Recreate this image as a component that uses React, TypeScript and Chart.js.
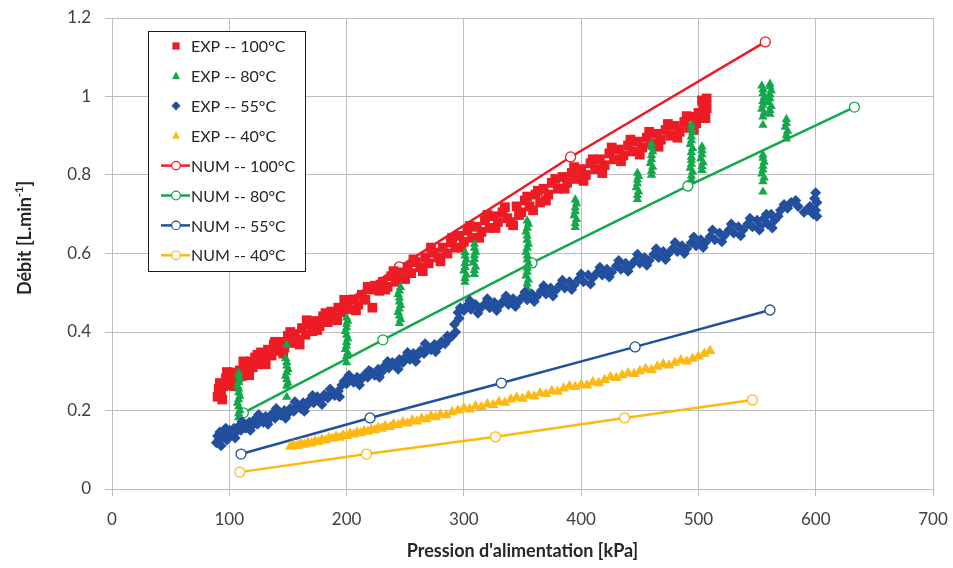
import React, { useEffect, useRef } from "react";
import { Chart, registerables } from "chart.js";

Chart.register(...registerables);

// ---------- Data ----------
const xTickValues = [0, 100, 200, 300, 400, 500, 600, 700];
const yTickValues = [0, 0.2, 0.4, 0.6, 0.8, 1, 1.2];
const yTickLabels = ["0", "0.2", "0.4", "0.6", "0.8", "1", "1.2"];

const xTitle = "Pression d'alimentation [kPa]";
const yTitleMain = "Débit [L.min";
const yTitleSup = "-1";
const yTitleEnd = "]";

const seriesLabels = [
  "EXP -- 100°C",
  "EXP -- 80°C",
  "EXP -- 55°C",
  "EXP -- 40°C",
  "NUM -- 100°C",
  "NUM -- 80°C",
  "NUM -- 55°C",
  "NUM -- 40°C",
];

const exp100: [number, number][] = [
  [90, 0.235], [91, 0.255], [92, 0.27], [93, 0.245], [95, 0.262], [97, 0.282], [99, 0.265], [101, 0.287],
  [103, 0.272], [105, 0.297], [107, 0.28], [109, 0.302], [111, 0.288], [113, 0.312], [115, 0.298], [118, 0.325],
  [120, 0.31], [122, 0.335], [125, 0.318], [127, 0.348], [130, 0.332], [133, 0.355], [136, 0.34], [138, 0.368],
  [141, 0.352], [144, 0.375], [147, 0.36], [150, 0.39], [153, 0.372], [156, 0.395], [159, 0.38], [162, 0.41],
  [165, 0.393], [168, 0.42], [171, 0.402], [174, 0.428], [177, 0.415], [180, 0.44], [184, 0.425], [187, 0.452],
  [190, 0.438], [193, 0.462], [197, 0.45], [200, 0.472], [203, 0.458], [206, 0.483], [210, 0.47], [213, 0.495],
  [216, 0.482], [220, 0.508], [222, 0.462], [224, 0.518], [228, 0.505], [231, 0.528], [235, 0.515], [238, 0.542],
  [242, 0.528], [245, 0.552], [248, 0.54], [252, 0.565], [255, 0.55], [259, 0.578], [263, 0.565], [267, 0.59],
  [270, 0.575], [274, 0.602], [278, 0.59], [282, 0.615], [286, 0.6], [289, 0.628], [293, 0.615], [296, 0.645],
  [300, 0.63], [303, 0.658], [307, 0.64], [311, 0.668], [315, 0.655], [318, 0.685], [322, 0.665], [325, 0.695],
  [329, 0.68], [333, 0.705], [337, 0.69], [342, 0.672], [345, 0.72], [349, 0.705], [352, 0.735], [356, 0.72],
  [361, 0.75], [365, 0.73], [368, 0.765], [372, 0.75], [375, 0.78], [380, 0.765], [384, 0.795], [388, 0.78],
  [392, 0.805], [396, 0.79], [400, 0.815], [404, 0.8], [408, 0.83], [412, 0.815], [416, 0.84], [420, 0.825],
  [424, 0.855], [428, 0.84], [432, 0.865], [436, 0.85], [440, 0.875], [444, 0.86], [448, 0.885], [452, 0.87],
  [456, 0.895], [460, 0.88], [464, 0.905], [468, 0.89], [472, 0.915], [476, 0.9], [480, 0.925], [484, 0.91],
  [488, 0.935], [492, 0.92], [495, 0.948], [498, 0.932], [500, 0.958], [502, 0.945], [504, 0.972], [505, 0.958],
  [506, 0.985], [507, 0.97],
  [94, 0.228], [98, 0.298], [104, 0.262], [112, 0.325], [117, 0.29], [124, 0.342], [131, 0.318], [139, 0.375],
  [146, 0.345], [152, 0.4], [160, 0.368], [166, 0.43], [175, 0.405], [182, 0.448], [192, 0.43], [198, 0.482],
  [208, 0.455], [218, 0.515], [233, 0.508], [240, 0.555], [250, 0.535], [257, 0.585], [265, 0.555], [272, 0.615],
  [280, 0.58], [290, 0.64], [298, 0.615], [305, 0.67], [313, 0.64], [320, 0.698], [327, 0.665], [335, 0.718],
  [340, 0.68], [347, 0.698], [354, 0.745], [359, 0.71], [363, 0.76], [370, 0.735], [378, 0.79], [386, 0.765],
  [394, 0.82], [402, 0.785], [410, 0.84], [418, 0.805], [426, 0.87], [434, 0.835], [442, 0.89], [450, 0.852],
  [458, 0.91], [466, 0.872], [474, 0.93], [482, 0.895], [490, 0.95], [496, 0.915], [503, 0.99], [506, 0.945],
  [507, 0.995],
];

const exp80: [number, number][] = [
  [108, 0.182], [108, 0.192], [109, 0.2], [108, 0.21], [107, 0.219], [108, 0.228], [109, 0.237], [108, 0.246],
  [108, 0.255], [107, 0.263], [108, 0.272], [109, 0.28], [108, 0.288], [108, 0.296],
  [149, 0.234], [149, 0.262], [150, 0.27], [149, 0.279], [148, 0.288], [149, 0.297], [150, 0.305], [149, 0.314],
  [149, 0.323], [148, 0.333], [149, 0.367],
  [200, 0.322], [200, 0.338], [201, 0.347], [199, 0.356], [200, 0.365], [200, 0.374], [201, 0.383], [200, 0.392],
  [199, 0.402], [200, 0.411], [200, 0.42], [201, 0.428], [200, 0.436],
  [245, 0.422], [246, 0.432], [245, 0.441], [244, 0.45], [245, 0.459], [246, 0.468], [245, 0.477], [245, 0.487],
  [244, 0.496], [245, 0.505], [246, 0.514],
  [301, 0.527], [301, 0.537], [302, 0.546], [300, 0.556], [301, 0.565], [301, 0.575], [302, 0.584], [301, 0.594],
  [301, 0.603],
  [309, 0.547], [309, 0.557], [310, 0.566], [308, 0.576], [309, 0.585], [309, 0.595], [310, 0.604], [309, 0.614],
  [309, 0.624],
  [354, 0.512], [354, 0.523], [355, 0.533], [353, 0.543], [354, 0.553], [354, 0.563], [355, 0.574], [354, 0.584],
  [354, 0.594], [353, 0.604], [354, 0.614], [355, 0.624], [354, 0.634], [354, 0.645], [353, 0.655], [354, 0.665],
  [355, 0.675], [354, 0.683],
  [395, 0.667], [395, 0.677], [396, 0.687], [394, 0.697], [395, 0.707], [395, 0.717], [396, 0.727], [395, 0.737],
  [448, 0.738], [448, 0.748], [449, 0.758], [447, 0.768], [448, 0.778], [448, 0.788], [449, 0.797], [448, 0.805],
  [460, 0.8], [460, 0.81], [461, 0.82], [459, 0.83], [460, 0.84], [460, 0.85], [461, 0.86], [460, 0.87], [460, 0.88],
  [494, 0.788], [494, 0.798], [495, 0.808], [493, 0.818], [494, 0.828], [494, 0.838], [494, 0.846], [494, 0.858],
  [495, 0.868], [493, 0.878], [494, 0.888], [494, 0.898], [495, 0.908], [494, 0.918], [494, 0.928],
  [503, 0.812], [503, 0.822], [504, 0.832], [502, 0.842], [503, 0.852], [503, 0.862], [503, 0.872],
  [555, 0.757], [555, 0.783], [556, 0.793], [554, 0.803], [555, 0.813], [555, 0.823], [556, 0.833], [555, 0.843],
  [555, 0.851], [555, 0.927], [555, 0.948], [556, 0.958], [554, 0.968], [555, 0.978], [555, 0.988], [556, 0.998],
  [555, 1.008], [555, 1.018], [554, 1.027],
  [561, 0.955], [561, 0.965], [562, 0.975], [560, 0.985], [561, 0.995], [561, 1.005], [562, 1.015], [561, 1.025],
  [561, 1.032],
  [575, 0.892], [575, 0.902], [576, 0.912], [574, 0.922], [575, 0.932], [575, 0.942],
];

const exp55: [number, number][] = [
  [89, 0.118], [90, 0.135], [91, 0.125], [92, 0.145], [94, 0.13], [96, 0.14], [98, 0.125], [100, 0.15],
  [102, 0.138], [104, 0.155], [106, 0.145], [108, 0.16], [110, 0.15], [112, 0.165], [114, 0.155], [117, 0.17],
  [119, 0.16], [121, 0.175], [124, 0.165], [126, 0.18], [129, 0.17], [131, 0.185], [134, 0.178], [136, 0.19],
  [139, 0.18], [141, 0.195], [144, 0.188], [147, 0.2], [150, 0.192], [152, 0.205], [155, 0.198], [158, 0.212],
  [161, 0.205], [163, 0.22], [166, 0.212], [169, 0.228], [172, 0.22], [175, 0.235], [178, 0.228], [181, 0.24],
  [184, 0.232], [187, 0.245], [190, 0.238], [193, 0.25], [196, 0.265], [198, 0.275], [200, 0.268], [203, 0.28],
  [206, 0.272], [209, 0.285], [212, 0.278], [215, 0.29], [218, 0.285], [221, 0.298], [224, 0.29], [227, 0.305],
  [230, 0.298], [233, 0.315], [236, 0.308], [239, 0.322], [242, 0.315], [245, 0.33], [248, 0.322], [251, 0.338],
  [254, 0.33], [257, 0.345], [260, 0.338], [263, 0.352], [266, 0.345], [269, 0.36], [272, 0.355], [275, 0.368],
  [278, 0.362], [281, 0.375], [284, 0.37], [287, 0.382], [290, 0.39], [292, 0.42], [295, 0.45], [297, 0.462],
  [300, 0.455], [303, 0.468], [306, 0.458], [310, 0.47], [314, 0.46], [318, 0.472], [322, 0.462], [326, 0.475],
  [330, 0.466], [334, 0.48], [338, 0.47], [342, 0.485], [346, 0.476], [350, 0.49], [354, 0.482], [358, 0.497],
  [362, 0.49], [366, 0.505], [370, 0.497], [374, 0.512], [378, 0.505], [382, 0.52], [386, 0.512], [390, 0.528],
  [394, 0.52], [398, 0.535], [402, 0.528], [406, 0.545], [410, 0.538], [414, 0.552], [418, 0.545], [422, 0.56],
  [426, 0.552], [430, 0.568], [434, 0.56], [438, 0.575], [442, 0.568], [446, 0.582], [450, 0.575], [454, 0.59],
  [458, 0.582], [462, 0.598], [466, 0.59], [470, 0.605], [474, 0.598], [478, 0.612], [482, 0.605], [486, 0.62],
  [490, 0.612], [494, 0.628], [498, 0.62], [502, 0.635], [506, 0.628], [510, 0.643], [514, 0.635], [518, 0.652],
  [522, 0.645], [526, 0.66], [530, 0.652], [534, 0.668], [538, 0.66], [542, 0.675], [546, 0.668], [550, 0.685],
  [553, 0.67], [556, 0.69], [559, 0.675], [562, 0.7], [565, 0.685], [568, 0.695], [573, 0.725], [576, 0.715],
  [583, 0.735], [590, 0.705], [595, 0.72], [598, 0.7], [599, 0.74], [600, 0.755], [601, 0.73], [600, 0.71],
  [601, 0.695],
  [93, 0.11], [97, 0.155], [105, 0.13], [111, 0.172], [118, 0.15], [125, 0.19], [133, 0.165], [140, 0.205],
  [148, 0.18], [156, 0.222], [164, 0.198], [171, 0.238], [179, 0.215], [186, 0.255], [194, 0.235], [202, 0.29],
  [211, 0.265], [219, 0.302], [228, 0.285], [235, 0.325], [244, 0.305], [252, 0.348], [259, 0.325], [267, 0.37],
  [276, 0.35], [286, 0.39], [293, 0.4], [296, 0.435], [305, 0.48], [312, 0.448], [320, 0.485], [328, 0.455],
  [336, 0.492], [344, 0.465], [352, 0.502], [360, 0.478], [368, 0.518], [376, 0.492], [384, 0.532], [392, 0.508],
  [400, 0.548], [408, 0.522], [416, 0.565], [424, 0.54], [432, 0.582], [440, 0.555], [448, 0.598], [456, 0.57],
  [464, 0.612], [472, 0.585], [480, 0.628], [488, 0.6], [496, 0.642], [504, 0.615], [512, 0.66], [520, 0.63],
  [528, 0.675], [536, 0.645], [544, 0.69], [552, 0.66], [558, 0.7], [563, 0.665], [570, 0.71], [579, 0.73],
  [585, 0.72], [593, 0.712],
];

const exp40: [number, number][] = [
  [152, 0.108], [155, 0.112], [158, 0.11], [161, 0.116], [164, 0.113], [167, 0.118], [170, 0.116], [173, 0.122],
  [176, 0.12], [179, 0.126], [182, 0.124], [185, 0.13], [188, 0.128], [191, 0.134], [194, 0.131], [197, 0.137],
  [200, 0.135], [203, 0.141], [206, 0.139], [209, 0.145], [212, 0.142], [215, 0.148], [218, 0.146], [221, 0.152],
  [224, 0.15], [227, 0.156], [230, 0.154], [233, 0.16], [237, 0.158], [240, 0.165], [244, 0.163], [248, 0.17],
  [252, 0.167], [256, 0.175], [260, 0.172], [264, 0.18], [268, 0.178], [272, 0.186], [276, 0.183], [280, 0.19],
  [285, 0.188], [290, 0.196], [295, 0.2], [300, 0.206], [305, 0.203], [310, 0.211], [315, 0.209], [320, 0.216],
  [325, 0.214], [330, 0.222], [335, 0.22], [340, 0.228], [345, 0.233], [350, 0.23], [355, 0.238], [360, 0.236],
  [365, 0.244], [370, 0.242], [375, 0.25], [380, 0.248], [385, 0.256], [390, 0.262], [395, 0.26], [400, 0.266],
  [405, 0.264], [410, 0.272], [415, 0.27], [420, 0.278], [425, 0.285], [430, 0.283], [435, 0.29], [440, 0.295],
  [445, 0.293], [450, 0.3], [455, 0.306], [460, 0.303], [465, 0.312], [470, 0.318], [475, 0.315], [480, 0.322],
  [485, 0.328], [490, 0.325], [495, 0.332], [500, 0.338], [505, 0.345], [510, 0.352],
];

const num100: [number, number][] = [[113, 0.31], [245, 0.566], [391, 0.846], [557, 1.139]];
const num80: [number, number][] = [[112, 0.194], [231, 0.38], [358, 0.576], [491, 0.772], [633, 0.973]];
const num55: [number, number][] = [[110, 0.089], [220, 0.181], [332, 0.27], [446, 0.362], [561, 0.456]];
const num40: [number, number][] = [[109, 0.043], [217, 0.089], [327, 0.133], [437, 0.181], [546, 0.227]];

// ---------- Styles ----------
const RED = "#ed1c24";
const GREEN = "#12a84b";
const BLUE = "#22509f";
const YELLOW = "#fdb913";
const FONT = "Lato, 'Open Sans', sans-serif";
const TEXT = "#404040";

const toPts = (arr: [number, number][]) => arr.map(([x, y]) => ({ x, y }));

const expDataset = (label: string, data: [number, number][], color: string, style: string, radius: number, order: number) => ({
  label,
  data: toPts(data),
  showLine: false,
  pointStyle: style,
  pointRadius: radius,
  pointBackgroundColor: color,
  pointBorderColor: color,
  pointBorderWidth: 0,
  backgroundColor: color,
  borderColor: color,
  order,
});

const numDataset = (label: string, data: [number, number][], color: string, order: number) => ({
  label,
  data: toPts(data),
  showLine: true,
  borderColor: color,
  borderWidth: 2.5,
  pointStyle: "circle",
  pointRadius: 5,
  pointBackgroundColor: "#ffffff",
  pointBorderColor: color,
  pointBorderWidth: 1.3,
  backgroundColor: "#ffffff",
  order,
});

function drawMarker(ctx: CanvasRenderingContext2D, style: string, x: number, y: number, color: string) {
  ctx.fillStyle = color;
  ctx.beginPath();
  if (style === "rect") {
    ctx.rect(x - 3.6, y - 3.6, 7.2, 7.2);
  } else if (style === "rectRot") {
    ctx.moveTo(x, y - 4.6);
    ctx.lineTo(x + 4.6, y);
    ctx.lineTo(x, y + 4.6);
    ctx.lineTo(x - 4.6, y);
    ctx.closePath();
  } else {
    ctx.moveTo(x, y - 4.4);
    ctx.lineTo(x + 3.9, y + 3);
    ctx.lineTo(x - 3.9, y + 3);
    ctx.closePath();
  }
  ctx.fill();
}

const legendPlugin = {
  id: "boxLegend",
  afterDraw(chart: any) {
    const ctx: CanvasRenderingContext2D = chart.ctx;
    ctx.save();
    const bx = 148.5, by = 31.5, bw = 157, bh = 240;
    ctx.fillStyle = "#ffffff";
    ctx.fillRect(bx, by, bw, bh);
    ctx.strokeStyle = "#1a1a1a";
    ctx.lineWidth = 1;
    ctx.strokeRect(bx, by, bw, bh);
    ctx.font = `16px ${FONT}`;
    ctx.textBaseline = "middle";
    ctx.textAlign = "left";
    chart.data.datasets.forEach((ds: any, i: number) => {
      const y = 46 + i * 29.9;
      const mx = 176;
      if (ds.showLine) {
        ctx.strokeStyle = ds.borderColor;
        ctx.lineWidth = 2.5;
        ctx.beginPath();
        ctx.moveTo(161, y);
        ctx.lineTo(190, y);
        ctx.stroke();
        ctx.beginPath();
        ctx.arc(mx, y, 4.3, 0, Math.PI * 2);
        ctx.fillStyle = "#ffffff";
        ctx.fill();
        ctx.lineWidth = 1.2;
        ctx.stroke();
      } else {
        drawMarker(ctx, ds.pointStyle, mx, y, ds.pointBackgroundColor);
      }
      ctx.fillStyle = "#262626";
      ctx.fillText(ds.label, 191, y + 1);
    });
    ctx.restore();
  },
};

const titlePlugin = {
  id: "axisTitles",
  afterDraw(chart: any) {
    const ctx: CanvasRenderingContext2D = chart.ctx;
    const area = chart.chartArea;
    ctx.save();
    ctx.fillStyle = "#262626";
    ctx.font = `bold 18px ${FONT}`;
    ctx.textAlign = "center";
    ctx.textBaseline = "middle";
    ctx.fillText(xTitle, (area.left + area.right) / 2, 551);

    // y title, rotated, with superscript
    ctx.translate(25, 238);
    ctx.rotate(-Math.PI / 2);
    const mainFont = `bold 18px ${FONT}`;
    const supFont = `bold 11px ${FONT}`;
    ctx.font = mainFont;
    const w1 = ctx.measureText(yTitleMain).width;
    const w3 = ctx.measureText(yTitleEnd).width;
    ctx.font = supFont;
    const w2 = ctx.measureText(yTitleSup).width;
    const total = w1 + w2 + w3;
    let x = -total / 2;
    ctx.textAlign = "left";
    ctx.font = mainFont;
    ctx.fillText(yTitleMain, x, 0);
    x += w1;
    ctx.font = supFont;
    ctx.fillText(yTitleSup, x, -6);
    x += w2;
    ctx.font = mainFont;
    ctx.fillText(yTitleEnd, x, 0);
    ctx.restore();
  },
};

export default function App() {
  const canvasRef = useRef<HTMLCanvasElement | null>(null);

  useEffect(() => {
    const canvas = canvasRef.current;
    if (!canvas) return;
    // Lower "order" is drawn on top: EXP markers above NUM lines
    const datasets: any[] = [
      expDataset(seriesLabels[0], exp100, RED, "rect", 6.9, 4),
      expDataset(seriesLabels[1], exp80, GREEN, "triangle", 5.4, 3),
      expDataset(seriesLabels[2], exp55, BLUE, "rectRot", 5.5, 2),
      expDataset(seriesLabels[3], exp40, YELLOW, "triangle", 6.2, 1),
      numDataset(seriesLabels[4], num100, RED, 8),
      numDataset(seriesLabels[5], num80, GREEN, 7),
      numDataset(seriesLabels[6], num55, BLUE, 6),
      numDataset(seriesLabels[7], num40, YELLOW, 5),
    ];

    const chart = new Chart(canvas, {
      type: "scatter",
      data: { datasets },
      options: {
        animation: false,
        responsive: false,
        devicePixelRatio: 1,
        events: [],
        layout: { padding: { left: 0, top: 18, right: 20, bottom: 0 } },
        plugins: {
          legend: { display: false },
          tooltip: { enabled: false },
        },
        scales: {
          x: {
            type: "linear",
            min: 0,
            max: 700,
            afterBuildTicks: (scale: any) => {
              scale.ticks = xTickValues.map((v) => ({ value: v }));
            },
            afterFit: (scale: any) => {
              scale.height = 79;
              scale.paddingLeft = 0;
              scale.paddingRight = 0;
            },
            ticks: {
              font: { family: FONT, size: 17 },
              color: TEXT,
              padding: 13,
              maxRotation: 0,
            },
            grid: { color: "#bdbdbd", lineWidth: 1, tickLength: 7, drawTicks: true },
            border: { color: "#bdbdbd", width: 1 },
          },
          y: {
            type: "linear",
            min: 0,
            max: 1.2,
            afterBuildTicks: (scale: any) => {
              scale.ticks = yTickValues.map((v) => ({ value: v }));
            },
            afterFit: (scale: any) => {
              scale.width = 112;
              scale.paddingTop = 0;
              scale.paddingBottom = 0;
            },
            ticks: {
              font: { family: FONT, size: 17 },
              color: TEXT,
              padding: 14,
              callback: (value: any) => {
                const idx = yTickValues.findIndex((v) => Math.abs(v - Number(value)) < 1e-9);
                return idx >= 0 ? yTickLabels[idx] : "";
              },
            },
            grid: { color: "#bdbdbd", lineWidth: 1, tickLength: 7, drawTicks: true },
            border: { color: "#bdbdbd", width: 1 },
          },
        },
      } as any,
      plugins: [legendPlugin, titlePlugin],
    });

    return () => chart.destroy();
  }, []);

  return (
    <div style={{ position: "fixed", left: 0, top: 0, width: 953, height: 568, background: "#ffffff" }}>
      <canvas ref={canvasRef} width={953} height={568} style={{ width: 953, height: 568, display: "block" }} />
    </div>
  );
}
